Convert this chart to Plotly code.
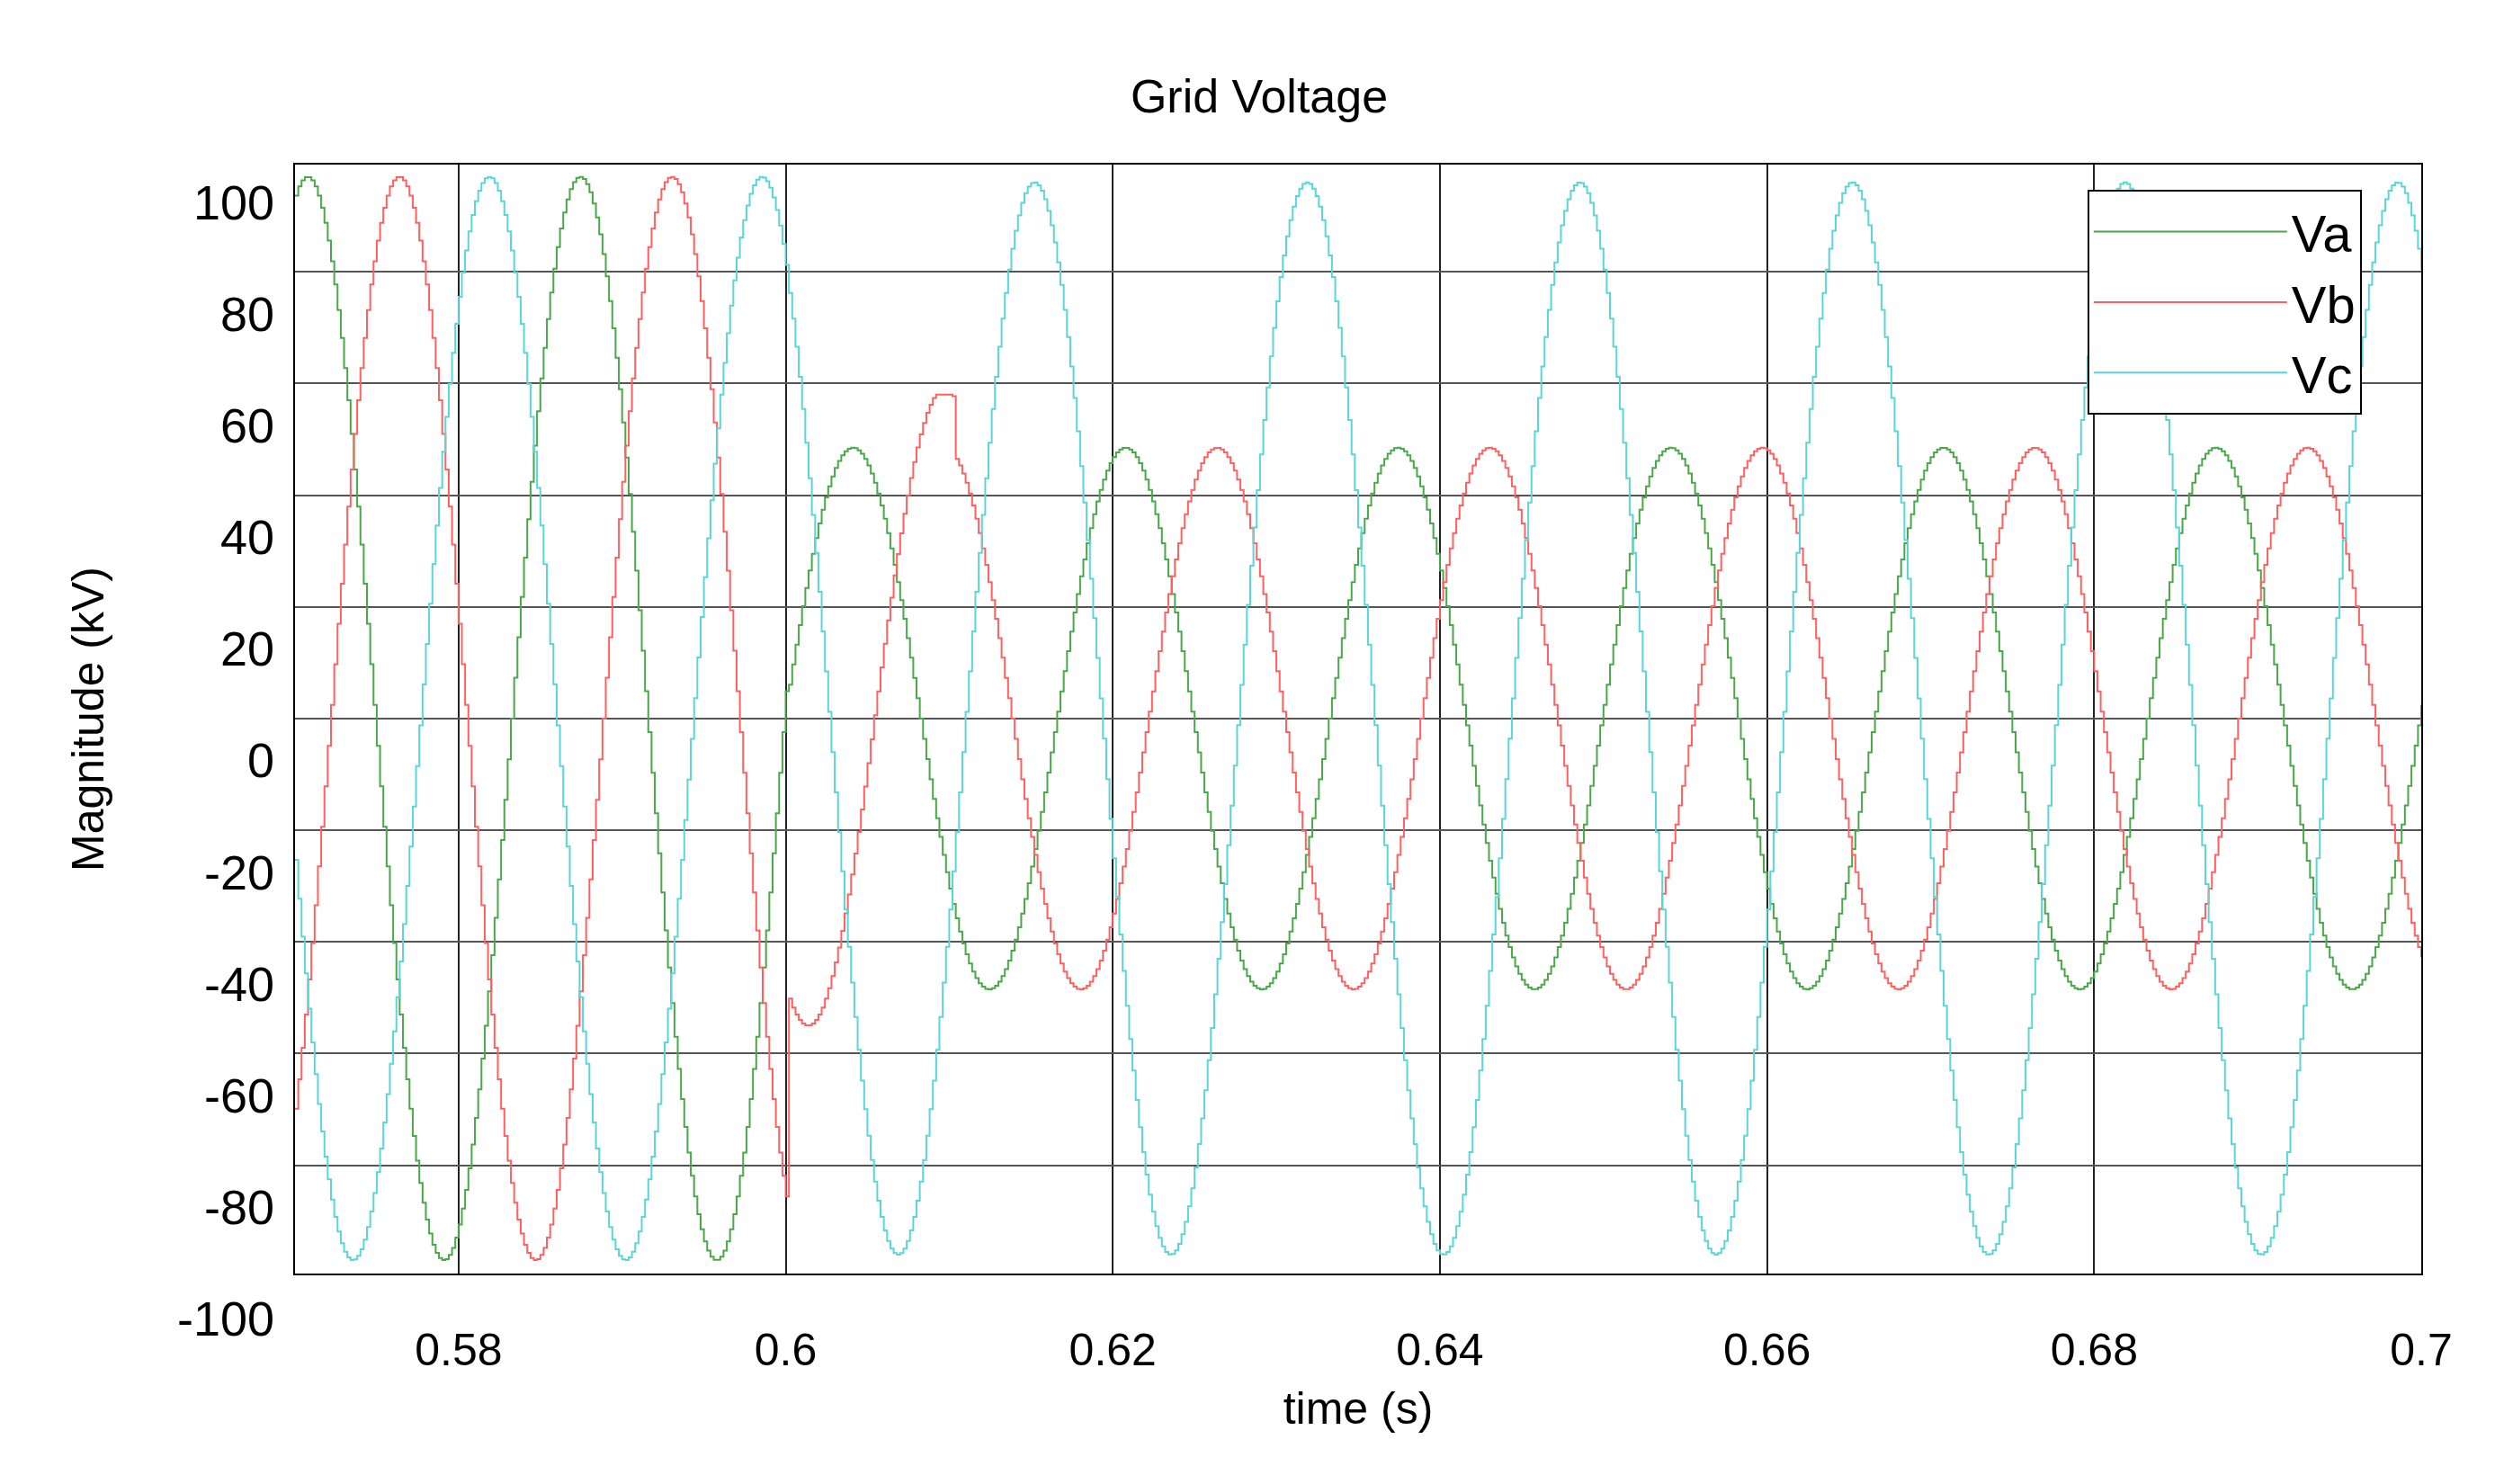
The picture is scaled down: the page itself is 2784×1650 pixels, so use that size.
import numpy as np
import plotly.graph_objects as go

# ---- values ----
freq_hz = 60.0
sample_dt = 0.0002            # zero-order-hold sample period (staircase)
t_start, t_end = 0.57, 0.70
t_fault = 0.60
phase_names = ["Va", "Vb", "Vc"]
peak_times = [0.5707, 0.5763, 0.5818]      # a crest time of each phase (s)
amp_pre = [97.0, 97.0, 97.0]               # kV before 0.6 s
amp_post = [48.5, 48.5, 96.0]              # kV after 0.6 s
vb_transient_end = 0.6102                  # Vb transient window after fault
vb_transient_amp = 57.0
vb_transient_offset = 2.0
vb_clip = 58.0
colors = ["#49a849", "#ff6060", "#5ad6d6"]
x_ticks = [0.58, 0.60, 0.62, 0.64, 0.66, 0.68, 0.70]
x_tick_text = ["0.58", "0.6", "0.62", "0.64", "0.66", "0.68", "0.7"]
y_grid = [-80, -60, -40, -20, 0, 20, 40, 60, 80]
y_labels = [100, 80, 60, 40, 20, 0, -20, -40, -60, -80, -100]
y_label_shift = -7.5   # labels sit lower than the grid lines in the original
y_range = [-99.4, 99.2]

t = np.arange(t_start, t_end + sample_dt / 2, sample_dt)
series = []
for i in range(3):
    w = np.cos(2 * np.pi * freq_hz * (t - peak_times[i]))
    amp = np.where(t < t_fault, amp_pre[i], amp_post[i])
    v = amp * w
    if i == 1:
        m = (t >= t_fault) & (t < vb_transient_end)
        v[m] = np.minimum(vb_transient_amp * w[m] + vb_transient_offset, vb_clip)
    series.append(v)

fig = go.Figure()
for name, v, c in zip(phase_names, series, colors):
    fig.add_trace(go.Scatter(x=t, y=v, mode="lines", name=name,
                             line=dict(color=c, width=2, shape="hv")))

for lab in y_labels:
    frac = (lab + y_label_shift - y_range[0]) / (y_range[1] - y_range[0])
    fig.add_annotation(x=-0.009, xref="paper", xanchor="right",
                       y=frac, yref="paper", yanchor="middle", text=str(lab),
                       showarrow=False, font=dict(size=54, color="black"))

fig.update_layout(
    width=2784, height=1650,
    paper_bgcolor="white", plot_bgcolor="white",
    font=dict(family="Liberation Sans, Arial", color="black"),
    margin=dict(l=320, r=100, t=175, b=242),
    title=dict(text="Grid Voltage", x=0.5, xanchor="center", y=0.94,
               yanchor="middle", font=dict(size=52)),
    showlegend=True,
    legend=dict(x=0.843, y=0.977, xanchor="left", yanchor="top",
                bgcolor="white", bordercolor="black", borderwidth=2,
                font=dict(size=58), itemwidth=215, tracegroupgap=0),
)
fig.update_xaxes(range=[t_start, t_end], tickvals=x_ticks, ticktext=x_tick_text,
                 tickfont=dict(size=50), ticks="", ticklabelstandoff=40,
                 showgrid=True, gridcolor="#222222", gridwidth=1.5,
                 showline=True, linecolor="black", linewidth=2, mirror=True,
                 zeroline=False,
                 title=dict(text="time (s)", font=dict(size=50), standoff=20))
fig.update_yaxes(range=y_range, tickvals=y_grid, showticklabels=False,
                 ticks="", showgrid=True, gridcolor="#555555", gridwidth=2,
                 showline=True, linecolor="black", linewidth=2, mirror=True,
                 zeroline=False,
                 title=dict(text="Magnitude (kV)", font=dict(size=50), standoff=195))

fig.write_html("out.html")
